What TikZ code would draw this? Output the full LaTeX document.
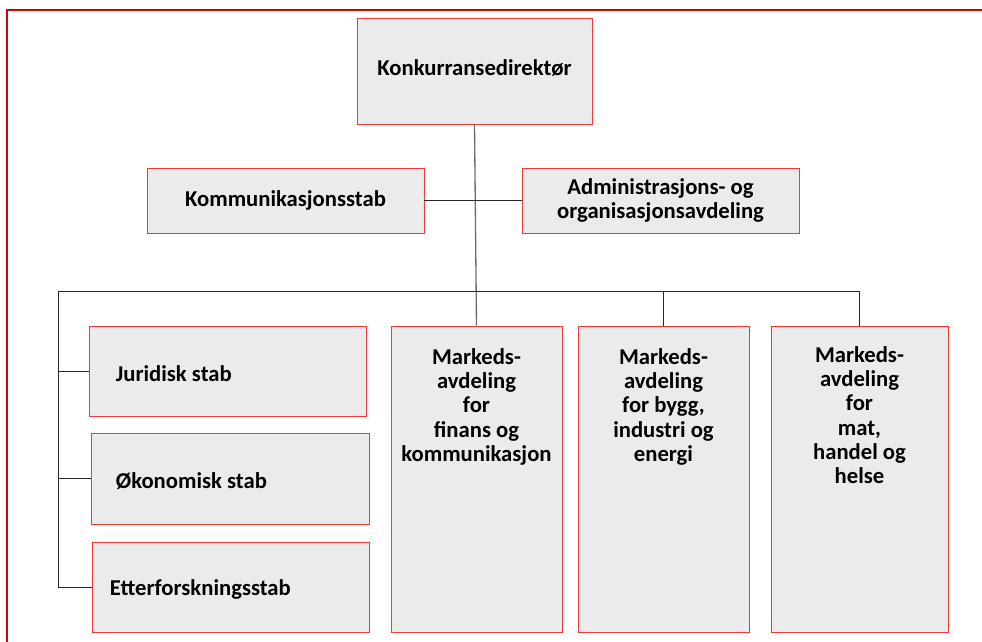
\documentclass[tikz,border=0pt]{standalone}
\usepackage{fontspec}
\setmainfont{Carlito}
\usetikzlibrary{positioning}
\definecolor{orgframe}{RGB}{192, 10, 10}
\definecolor{orgred}{RGB}{242, 56, 56}
\definecolor{orgfill}{RGB}{235, 235, 235}
\definecolor{orglink}{RGB}{40, 40, 40}
\definecolor{orgtrunk}{RGB}{110, 110, 110}

\begin{document}
\begin{tikzpicture}[x=0.75pt, y=-0.75pt,
    orgbox/.style={draw=orgred, fill=orgfill, line width=0.6pt, inner sep=0pt},
    orgtext/.style={font=\fontsize{17}{18.2}\selectfont\bfseries, align=center, inner sep=0pt},
    link/.style={draw=orglink, line width=0.75pt}]
\useasboundingbox (0,0) rectangle (982,642);
% Frame (cut off at top and left)
\draw[orgframe, line width=1.6pt] (7,642) -- (7,10) -- (982,10);

% Top level
\node[orgbox, orgtext, minimum width=176.25pt, minimum height=79.5pt] (dir) at (474.5,71) {};
\node[orgtext] (dirtxt) at (474.5,68) {Konkurransedirektør};

% Staff units next to the director
\node[orgbox, orgtext, minimum width=207.75pt, minimum height=48.75pt] (komm) at (285.5,200.5) {Kommunikasjonsstab};
\node[orgbox, orgtext, minimum width=207.75pt, minimum height=48.75pt] (admin) at (660.5,200.5) {Administrasjons- og\\organisasjonsavdeling};

% Staff units on the left
\node[orgbox, minimum width=207.75pt, minimum height=67.5pt] (jur) at (227.5,371) {};
\node[orgbox, minimum width=208.5pt, minimum height=68.25pt] (oko) at (230,478.5) {};
\node[orgbox, minimum width=207.75pt, minimum height=67.5pt] (etter) at (230.5,587) {};
\node[orgtext, anchor=west, right=20.25pt of jur.west, yshift=-2pt] (jurtxt) {Juridisk stab};
\node[orgtext, anchor=west, right=18.75pt of oko.west, yshift=-2pt] (okotxt) {Økonomisk stab};
\node[orgtext, anchor=west, right=13.5pt of etter.west, yshift=-1.5pt] (ettertxt) {Etterforskningsstab};

% Market departments
\node[orgbox, minimum width=128.25pt, minimum height=229.5pt] (finans) at (476.5,479) {};
\node[orgbox, minimum width=128.25pt, minimum height=229.5pt] (bygg) at (663.5,479) {};
\node[orgbox, minimum width=132.75pt, minimum height=229.5pt] (helse) at (859.5,479) {};
\node[orgtext, below=17pt of finans.north] (finanstxt) {Markeds-\\avdeling\\for\\finans og\\kommunikasjon};
\node[orgtext, below=17pt of bygg.north] (byggtxt) {Markeds-\\avdeling\\for bygg,\\industri og\\energi};
\node[orgtext, below=15.5pt of helse.north] (helsetxt) {Markeds-\\avdeling\\for\\mat,\\handel og\\helse};

% Connectors
\coordinate (busL) at (58,291);
\coordinate (busR) at (helse.north |- busL);
\draw[orgtrunk, line width=1pt] (dir.south) -- (finans.north);
\draw[link] (komm.east) -- (admin.west);
\draw[link] (busL) -- (busR) -- (helse.north);
\draw[link] (bygg.north |- busL) -- (bygg.north);
\draw[link] (busL) -- (busL |- etter.west) -- (etter.west);
\draw[link] (busL |- jur.west) -- (jur.west);
\draw[link] (busL |- oko.west) -- (oko.west);
\end{tikzpicture}
\end{document}
